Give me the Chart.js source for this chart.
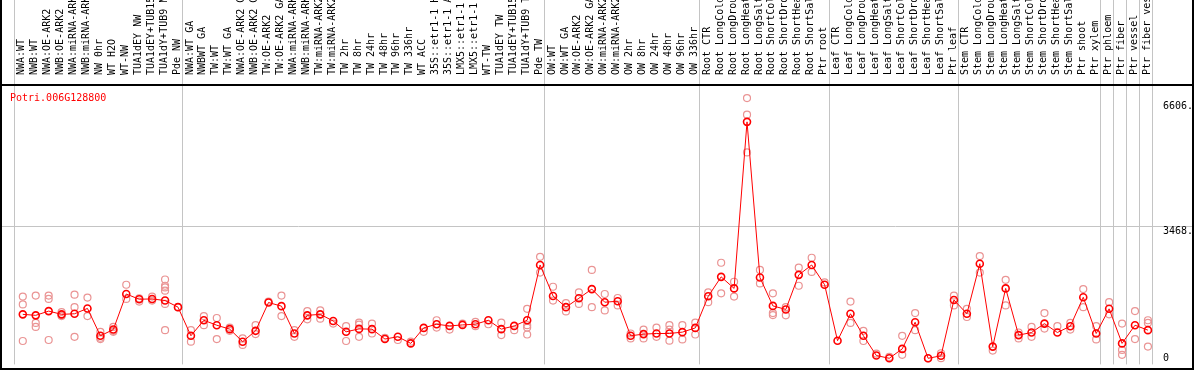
<!DOCTYPE html>
<html>
<head>
<meta charset="utf-8">
<title>Potri.006G128800</title>
<script src="https://cdn.jsdelivr.net/npm/chart.js@4/dist/chart.umd.min.js"></script>
<style>
  html, body { margin: 0; padding: 0; background: #fff; }
  #wrap { width: 1194px; height: 370px; }
</style>
</head>
<body>
<div id="wrap"><canvas id="chart" width="1194" height="370"></canvas></div>
<script>
const geneName = 'Potri.006G128800';

const categories = [
  'NWA:WT', 'NWB:WT', 'NWA:OE-ARK2', 'NWB:OE-ARK2', 'NWA:miRNA-ARK2', 'NWB:miRNA-ARK2',
  'NW 0hr', 'WT H2O', 'WT-NW', 'TUA1dEY NW', 'TUA1dEY+TUB15', 'TUA1dY+TUB9 NW', 'Pde NW',
  'NWA:WT GA', 'NWBWT GA', 'TW:WT', 'TW:WT GA', 'NWA:OE-ARK2 GA', 'NWB:OE-ARK2 GA',
  'TW:OE-ARK2', 'TW:OE-ARK2 GA', 'NWA:miRNA-ARK2', 'NWB:miRNA-ARK2', 'TW:miRNA-ARK2',
  'TW:miRNA-ARK2', 'TW 2hr', 'TW 8hr', 'TW 24hr', 'TW 48hr', 'TW 96hr', 'TW 336hr', 'WT ACC',
  '35S::etr1-1 H2O', '35S::etr1-1 ACC', 'LMX5::etr1-1 H2O', 'LMX5::etr1-1 ACC', 'WT-TW',
  'TUA1dEY TW', 'TUA1dEY+TUB15', 'TUA1dY+TUB9 TW', 'Pde TW',
  'OW:WT', 'OW:WT GA', 'OW:OE-ARK2', 'OW:OE-ARK2 GA', 'OW:miRNA-ARK2', 'OW:miRNA-ARK2',
  'OW 2hr', 'OW 8hr', 'OW 24hr', 'OW 48hr', 'OW 96hr', 'OW 336hr',
  'Root CTR', 'Root LongCold', 'Root LongDrought', 'Root LongHeat', 'Root LongSalt',
  'Root ShortCold', 'Root ShortDrought', 'Root ShortHeat', 'Root ShortSalt', 'Ptr root',
  'Leaf CTR', 'Leaf LongCold', 'Leaf LongDrought', 'Leaf LongHeat', 'Leaf LongSalt',
  'Leaf ShortCold', 'Leaf ShortDrought', 'Leaf ShortHeat', 'Leaf ShortSalt', 'Ptr leaf',
  'Stem CTR', 'Stem LongCold', 'Stem LongDrought', 'Stem LongHeat', 'Stem LongSalt',
  'Stem ShortCold', 'Stem ShortDrought', 'Stem ShortHeat', 'Stem ShortSalt', 'Ptr shoot',
  'Ptr xylem', 'Ptr phloem', 'Ptr fiber', 'Ptr vessel', 'Ptr fiber vessel',
];

// index of the first sample of each experiment block (last one closes the plot)
const groupStarts = [0, 13, 41, 53, 63, 73, 84, 85, 86, 87, 88];

const meanValues = [
  1157, 1131, 1242, 1157, 1172, 1312, 595, 758, 1690, 1553, 1561, 1519, 1346,
  595, 1002, 872, 769, 440, 725, 1467, 1372, 655, 1131, 1157, 983, 699, 776, 769,
  510, 569, 396, 802, 898, 854, 880, 898, 1002, 769, 854, 1002, 2451,
  1638, 1346, 1579, 1819, 1475, 1501, 595, 639, 655, 655, 691, 802,
  1630, 2140, 1837, 6203, 2122, 1379, 1286, 2192, 2451, 1933,
  466, 1172, 595, 78, 5, 251, 950, 5, 70, 1535,
  1172, 2484, 311, 1837, 613, 681, 914, 681, 846, 1605, 655,
  1302, 396, 872, 743,
];

const replicateValues = [
  [1623, 1416, 458], [1649, 932, 828], [1649, 1561, 484], [1216, 1131, 1113],
  [1674, 1346, 569], [1597, 1113], [699, 543, 510], [828, 725, 699], [1933, 1561],
  [1579, 1493], [1623, 1519], [2070, 1907, 1863, 1778, 1431, 743], [1346],
  [743, 440], [1113, 872], [1061, 510], [810, 725], [525, 355], [872, 639], [1493],
  [1649, 1113], [743, 569], [1242, 1027], [1260, 1043], [914], [846, 458],
  [939, 888, 569], [914, 655], [540], [484], [440], [699], [1002, 810], [758],
  [914], [958, 846], [898], [939, 613], [743], [1302, 872, 810, 629], [2666, 2252],
  [1881, 1519], [1449, 1234], [1734, 1431], [2321, 1346], [1690, 1260], [1586, 1390],
  [655, 525], [758, 525], [810, 569], [872, 758, 466], [872, 499], [939, 629],
  [1734, 1475], [2510, 1708], [2011, 1623], [6825, 6392, 5401], [2321, 1967],
  [1708, 1190, 1139], [1346, 1131], [2381, 1907], [2640, 2270], [1993],
  [], [1493, 932], [725, 458], [130], [40], [595, 96], [1190, 743], [0], [137, 8],
  [1649, 1390],
  [1302, 1087], [2684, 2252], [207], [2063, 1390], [681, 525], [828, 569],
  [1190, 784], [846], [932, 758], [1819, 1346], [846, 499],
  [1475, 1157], [914, 225, 96], [1242, 510], [1002, 932, 311],
];

const yTickValues = [0, 3468, 6606];
const yGridValues = [3468];

(function () {
  const red = '#ff0000';
  const repColor = '#ea9494';
  const gray = '#c4c4c4';
  const mono = '"DejaVu Sans Mono", monospace';

  const meanPoints = meanValues.map((v, i) => ({ x: i, y: v }));
  const repPoints = [];
  replicateValues.forEach((reps, i) => {
    for (const v of reps) repPoints.push({ x: i, y: v });
  });

  const decor = {
    id: 'decor',
    beforeDatasetsDraw(chart) {
      const { ctx, scales: { x, y }, chartArea: a } = chart;
      ctx.save();
      ctx.strokeStyle = gray;
      ctx.lineWidth = 1;
      for (const v of yGridValues) {
        const py = Math.floor(y.getPixelForValue(v)) + 0.5;
        ctx.beginPath();
        ctx.moveTo(0, py);
        ctx.lineTo(chart.width, py);
        ctx.stroke();
      }
      for (const g of groupStarts) {
        const px = Math.floor(x.getPixelForValue(g - 0.645)) + 0.5;
        ctx.beginPath();
        ctx.moveTo(px, 0);
        ctx.lineTo(px, a.bottom);
        ctx.stroke();
      }
      ctx.restore();
    },
    afterDraw(chart) {
      const { ctx, scales: { y } } = chart;
      const w = chart.width, h = chart.height;
      ctx.save();
      ctx.fillStyle = '#000';
      ctx.fillRect(0, 0, 2, h);
      ctx.fillRect(w - 2, 0, 2, h);
      ctx.fillRect(0, 84, w, 2);
      ctx.fillRect(0, h - 2, w, 2);

      ctx.font = '10px ' + mono;
      ctx.textAlign = 'left';
      ctx.textBaseline = 'middle';
      for (const v of yTickValues) {
        const off = yGridValues.includes(v) ? 5 : 0;
        ctx.fillText(v === 0 ? '0' : v + '.', 1163, y.getPixelForValue(v) + off);
      }

      ctx.fillStyle = red;
      ctx.textBaseline = 'alphabetic';
      ctx.fillText(geneName, 10, 101);
      ctx.restore();
    },
  };

  new Chart(document.getElementById('chart').getContext('2d'), {
    type: 'line',
    data: {
      datasets: [
        {
          label: 'mean',
          data: meanPoints,
          borderColor: red,
          borderWidth: 1,
          tension: 0,
          pointRadius: 3.5,
          pointBorderWidth: 1.6,
          pointBorderColor: red,
          pointBackgroundColor: 'rgba(0,0,0,0)',
        },
        {
          label: 'replicates',
          type: 'scatter',
          data: repPoints,
          showLine: false,
          pointRadius: 3.5,
          pointBorderWidth: 1.2,
          pointBorderColor: repColor,
          pointBackgroundColor: 'rgba(0,0,0,0)',
        },
      ],
    },
    options: {
      responsive: false,
      animation: false,
      devicePixelRatio: 1,
      layout: { padding: { left: 2, right: 2, top: 0, bottom: 2 } },
      plugins: { legend: { display: false }, tooltip: { enabled: false } },
      scales: {
        x: {
          type: 'linear',
          position: 'top',
          min: -1.33,
          max: 90.13,
          afterBuildTicks: (s) => { s.ticks = categories.map((_, i) => ({ value: i })); },
          afterFit: (s) => { s.height = 85; },
          grid: { display: false },
          border: { display: false },
          ticks: {
            autoSkip: false,
            minRotation: 90,
            maxRotation: 90,
            padding: 2,
            labelOffset: 11,
            color: '#000',
            font: { family: mono, size: 10 },
            callback: (v) => categories[v],
          },
        },
        y: { display: false, min: -155, max: 7169 },
      },
    },
    plugins: [decor],
  });
})();
</script>
</body>
</html>
